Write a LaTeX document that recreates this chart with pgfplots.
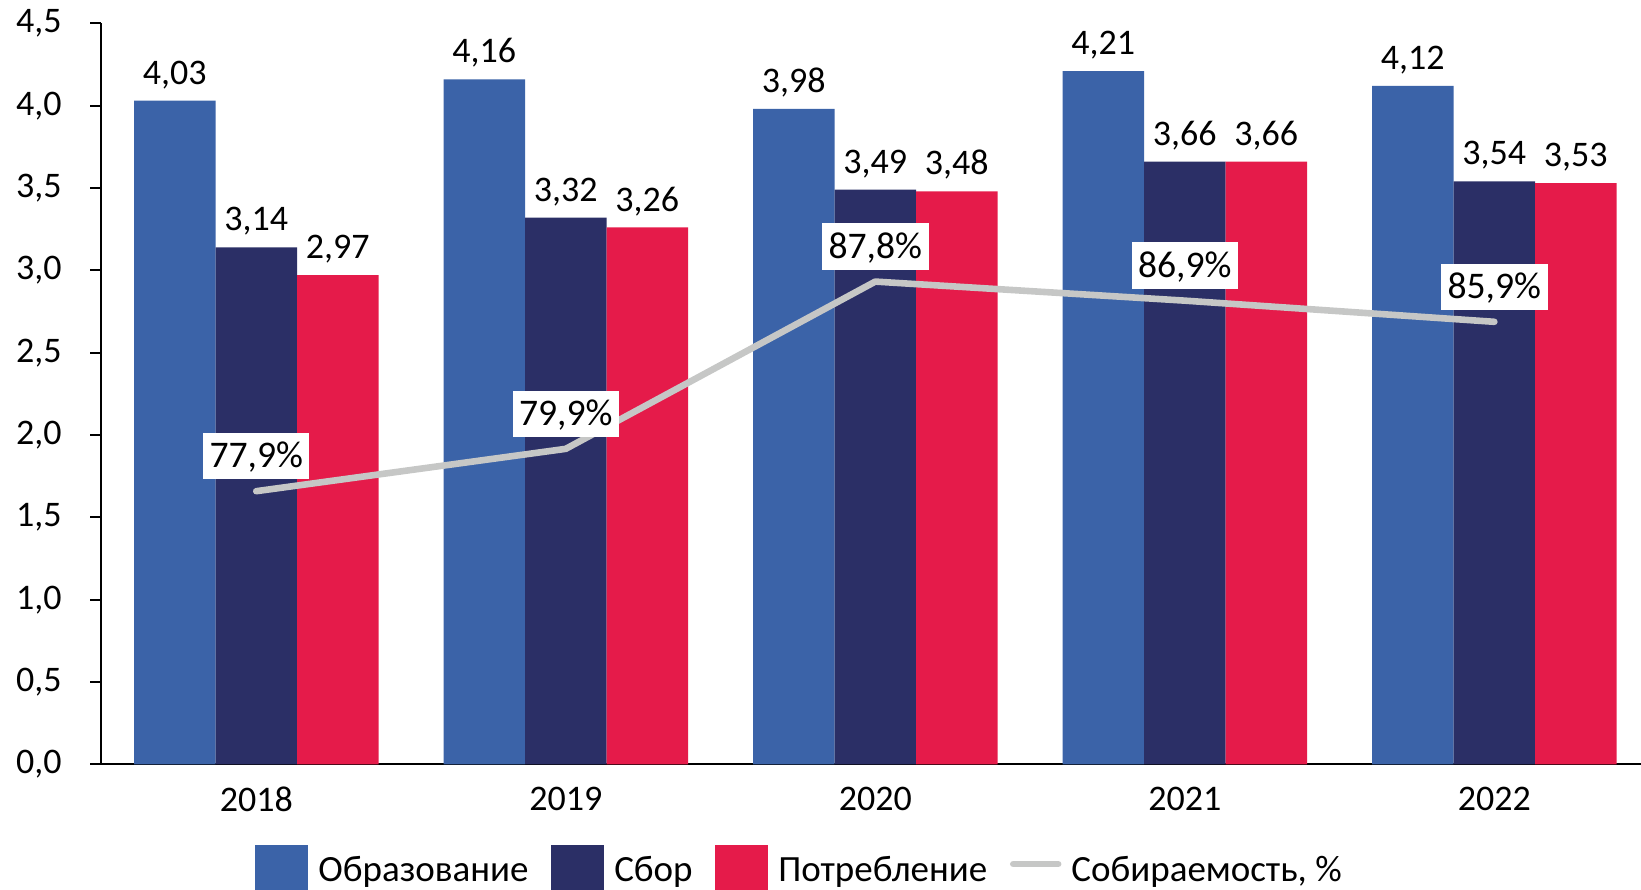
\documentclass[border=0pt]{standalone}
\usepackage{fontspec}
\setmainfont{Carlito}
\usepackage{pgfplots}
\pgfplotsset{compat=1.18}
\definecolor{cblue}{RGB}{59,99,168}
\definecolor{cnavy}{RGB}{43,47,102}
\definecolor{cred}{RGB}{229,27,74}
\definecolor{cgray}{RGB}{198,199,198}
\newcommand{\ff}{\fontsize{18pt}{21.6pt}\selectfont}
\newcommand{\fl}{\fontsize{18.5pt}{22pt}\selectfont}
\newcommand{\fp}{\fontsize{18.8pt}{22pt}\selectfont}
\pgfplotsset{
  common/.style={
    at={(0,0)}, anchor=south west,
    scale only axis, width=769.75pt, height=370.5pt,
    xmin=-0.5, xmax=4.474,
  },
  imgblue/.style={legend image code/.code={\fill[cblue] (0pt,-13.7pt) rectangle (26.5pt,12.8pt);}},
  imgnavy/.style={legend image code/.code={\fill[cnavy] (0pt,-13.7pt) rectangle (26.5pt,12.8pt);}},
  imgred/.style={legend image code/.code={\fill[cred] (0pt,-13.7pt) rectangle (26.5pt,12.8pt);}},
  imggray/.style={legend image code/.code={\draw[cgray, line width=3.3pt, line cap=round] (1.65pt,3.3pt) -- (24.1pt,3.3pt);}},
}
\begin{document}
\begin{tikzpicture}
\begin{axis}[
  common,
  ymin=0, ymax=4.5,
  ybar=0pt, bar width=40.75pt,
  axis lines*=left,
  axis line style={line width=1pt, black},
  xtick=data, xticklabels={2018,2019,2020,2021,2022},
  ytick={0,0.5,1,1.5,2,2.5,3,3.5,4,4.5},
  tick align=outside, major tick length=5.7pt,
  tick style={line width=1pt, black},
  major x tick style={draw=none},
  ticklabel style={font=\ff},
  xticklabel style={yshift=-2.3pt},
  /pgf/number format/assume math mode=true,
  yticklabel style={xshift=-10.7pt, /pgf/number format/fixed, /pgf/number format/fixed zerofill, /pgf/number format/precision=1, /pgf/number format/use comma},
  nodes near coords={\pgfmathprintnumber[fixed,fixed zerofill,precision=2,use comma,assume math mode=true]{\pgfplotspointmeta}},
  every node near coord/.append style={font=\ff, text=black, anchor=south, inner sep=0pt, text depth=0pt, yshift=8pt},
  legend style={draw=none, fill=none, font=\fl, at={(0.0997,-0.1085)}, anchor=north west,
    inner sep=0pt,
    /tikz/every odd column/.append style={column sep=3pt},
    /tikz/every even column/.append style={column sep=9.35pt}},
  legend columns=-1,
]
\addplot[fill=cblue, draw=none, imgblue] coordinates {(0,4.03) (1,4.16) (2,3.98) (3,4.21) (4,4.12)};
\addlegendentry{Образование}
\addplot[fill=cnavy, draw=none, imgnavy] coordinates {(0,3.14) (1,3.32) (2,3.49) (3,3.66) (4,3.54)};
\addlegendentry{Сбор}
\addplot[fill=cred, draw=none, imgred] coordinates {(0,2.97) (1,3.26) (2,3.48) (3,3.66) (4,3.53)};
\addlegendentry{Потребление}
\addlegendimage{imggray}
\addlegendentry{Собираемость, \%}
\end{axis}
\begin{axis}[
  common,
  ymin=65, ymax=100,
  hide axis, clip=false,
]
\addplot[cgray, line width=3.3pt, line cap=round, line join=round,
  nodes near coords={\pgfmathprintnumber[fixed,fixed zerofill,precision=1,use comma,assume math mode=true]{\pgfplotspointmeta}\%},
  every node near coord/.append style={font=\fp, text=black, fill=white, anchor=center,
    inner xsep=3.25pt, inner ysep=5.8pt, text height=11.6pt, text depth=0pt, yshift=17.5pt}]
  coordinates {(0,77.9) (1,79.9) (2,87.8) (3,86.9) (4,85.9)};
\end{axis}
\pgfresetboundingbox
\useasboundingbox (-50.75pt,-62.35pt) rectangle (769.75pt,382.15pt);
\end{tikzpicture}
\end{document}
